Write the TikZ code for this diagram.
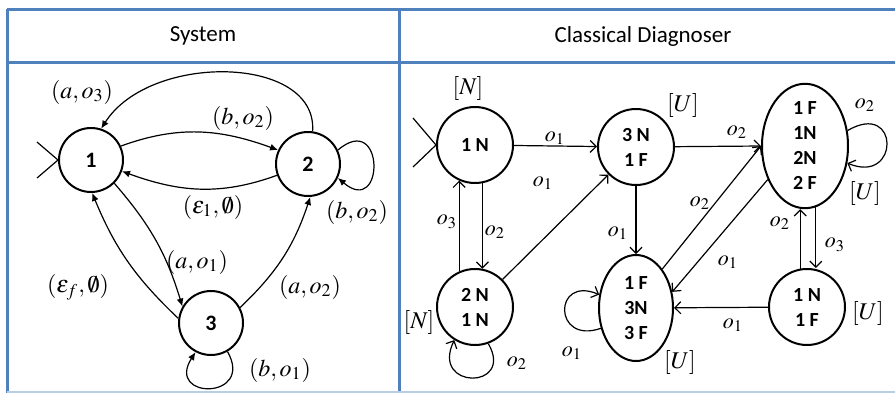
\documentclass[tikz,border=0pt]{standalone}
\usepackage{mathptmx}
\usepackage[no-math]{fontspec}
\newfontfamily\calibri{Carlito}
\usetikzlibrary{arrows.meta,shapes.geometric}
\definecolor{frameblue}{RGB}{79,129,189}
\begin{document}
\begin{tikzpicture}[x=0.5pt,y=-0.5pt,
        frame/.style={draw=frameblue, line width=1.5pt},
        state/.style={circle, draw, line width=1pt, minimum size=32pt, inner sep=0pt, font=\calibri\fontsize{11}{13}\selectfont\bfseries},
        dstate/.style={circle, draw, line width=1pt, minimum size=38pt, inner sep=0pt, align=center, font=\calibri\fontsize{10}{12.5}\selectfont\bfseries},
        dell/.style={ellipse, draw, line width=1pt, inner sep=0pt, align=center, font=\calibri\fontsize{10}{12.5}\selectfont\bfseries},
        sys/.style={line width=0.6pt, -{Latex[length=4pt,width=3.5pt]}},
        diag/.style={line width=0.6pt, -{Straight Barb[length=3pt,width=6pt]}},
        lbl/.style={font=\fontsize{12}{14}\selectfont},
        olbl/.style={font=\fontsize{11}{13}\selectfont},
        head/.style={font=\calibri\fontsize{11.5}{14}\selectfont}]
    \useasboundingbox (0,0) rectangle (895,392);
    % table frame
    \draw[frame] (7,9) -- (900,9);
    \draw[frame] (7,62) -- (900,62);
    \draw[frame] (7,9) -- (7,394);
    \draw[frame] (399,9) -- (399,394);
    \draw[frame, draw=frameblue!40] (7,392) -- (900,392);
    \node[head] (hsys) at (203,36) {System};
    \node[head] (hdiag) at (643,36) {Classical Diagnoser};

    % system
    \node[state] (s1) at (91,160) {1};
    \node[state] (s2) at (308,164) {2};
    \node[state] (s3) at (211,323) {3};
    \draw[line width=0.6pt] (s1.west) ++(-21,-18) -- (s1.west) -- ++(-21,18);
    \draw[sys] (s1.25) to[out=20,in=160] (s2.155);
    \draw[sys] (s2.-160) to[out=200,in=-20] (s1.-20);
    \draw[sys] (s2.82) .. controls (318,55) and (150,52) .. (s1.72);
    \draw[sys] (s2.25) .. controls (385,110) and (385,218) .. (s2.-25);
    \draw[sys] (s1.-45) to[bend left=12] (s3.150);
    \draw[sys] (s3.172) to[bend left=12] (s1.-88);
    \draw[sys] (s3.28) to[bend right=14] (s2.-86);
    \draw[sys] (s3.-60) .. controls (255,400) and (165,400) .. (s3.-118);
    \node[lbl] (l12) at (243,118) {$(b,o_2)$};
    \node[lbl] (l21) at (213,207) {$(\varepsilon_1,\emptyset)$};
    \node[lbl] (l21b) at (82,92) {$(a,o_3)$};
    \node[lbl] (l22) at (357,212) {$(b,o_2)$};
    \node[lbl] (l13) at (197,262) {$(a,o_1)$};
    \node[lbl] (l31) at (78,287) {$(\varepsilon_f,\emptyset)$};
    \node[lbl] (l32) at (310,287) {$(a,o_2)$};
    \node[lbl] (l33) at (280,370) {$(b,o_1)$};

    % diagnoser
    \node[dstate] (d1) at (475,145) {1 N};
    \node[dstate] (d2) at (636,147) {3 N\\1 F};
    \node[dell, minimum width=43pt, minimum height=62pt] (d3) at (805,146) {1 F\\1N\\2N\\2 F};
    \node[dstate] (d4) at (475,307) {2 N\\1 N};
    \node[dell, minimum width=37pt, minimum height=53pt] (d5) at (636,308) {1 F\\3N\\3 F};
    \node[dstate] (d6) at (807,307) {1 N\\1 F};
    \draw[line width=0.6pt] (d1.west) ++(-23,-27) -- (d1.west) -- ++(-23,22);
    \draw[diag] (d1) -- (d2);
    \draw[diag] (d2) -- (d3.west);
    \draw[diag] (d4.45) -- (d2.-135);
    \draw[diag] (d1.-79) -- (d4.79);
    \draw[diag] (d4.114) -- (d1.-114);
    \draw[diag] (d2) -- (d5);
    \draw[diag] (d5.56) -- (d3.west);
    \draw[diag] (d3.222) -- (d5.24);
    \draw[diag] (d6.100) -- (d6.100 |- d3.south);
    \draw[diag] (d3.-80) -- (d3.-80 |- d6.north);
    \draw[diag] (d6) -- (d5);
    \draw[diag] (d3.20) .. controls (900,100) and (900,185) .. (d3.-22);
    \draw[diag] (d4.-70) .. controls (515,390) and (430,390) .. (d4.-122);
    \draw[diag] (d5.210) .. controls (553,345) and (553,275) .. (d5.160);
    \node[olbl] (o12) at (555,138) {$o_1$};
    \node[olbl] (o23) at (737,132) {$o_2$};
    \node[olbl] (o42) at (543,183) {$o_1$};
    \node[olbl] (o14) at (495,232) {$o_2$};
    \node[olbl] (o41) at (447,222) {$o_3$};
    \node[olbl] (o25) at (618,233) {$o_1$};
    \node[olbl] (o53) at (700,203) {$o_2$};
    \node[olbl] (o35) at (728,262) {$o_1$};
    \node[olbl] (o63) at (780,223) {$o_2$};
    \node[olbl] (o36) at (835,245) {$o_3$};
    \node[olbl] (o65) at (733,325) {$o_1$};
    \node[olbl] (o33) at (865,105) {$o_2$};
    \node[olbl] (o44) at (517,363) {$o_2$};
    \node[olbl] (o55) at (572,353) {$o_1$};
    \node[lbl] (v1) at (468,88) {$[N]$};
    \node[lbl] (v2) at (683,105) {$[U]$};
    \node[lbl] (v3) at (865,193) {$[U]$};
    \node[lbl] (v4) at (419,322) {$[N]$};
    \node[lbl] (v5) at (680,362) {$[U]$};
    \node[lbl] (v6) at (868,313) {$[U]$};
\end{tikzpicture}
\end{document}
